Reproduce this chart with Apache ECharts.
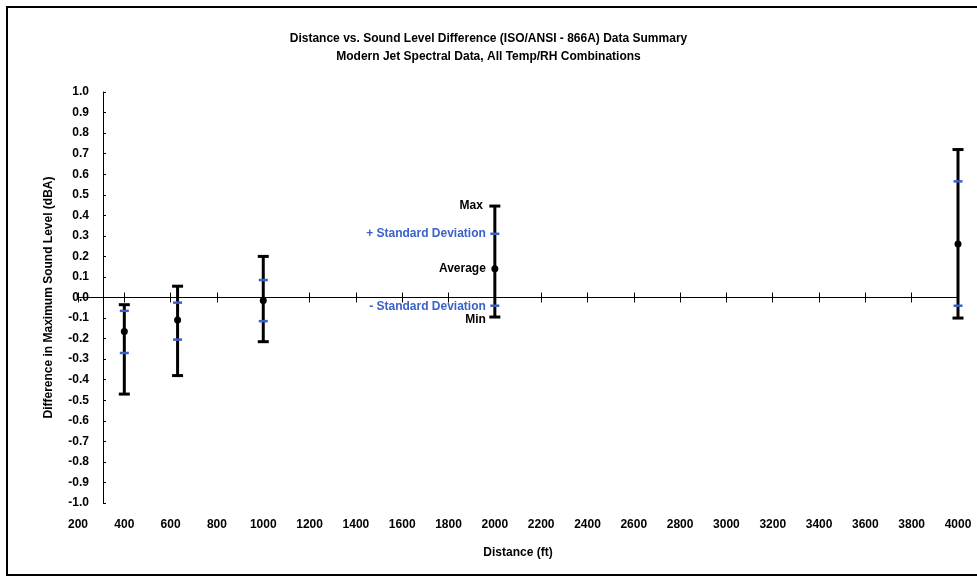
<!DOCTYPE html>
<html>
<head>
<meta charset="utf-8">
<script src="https://cdn.jsdelivr.net/npm/echarts@6/dist/echarts.min.js"></script>
<style>
  html, body { margin: 0; padding: 0; background: #fff; }
  #chart { width: 977px; height: 576px; }
</style>
</head>
<body>
<div id="chart"></div>
<script>
// distance (ft) and the spread of level differences (dBA)
const distances = [400, 630, 1000, 2000, 4000]
const maxValues = [-0.035, 0.055, 0.2, 0.445, 0.72]
const plusSd = [-0.065, -0.025, 0.085, 0.31, 0.565]
const averages = [-0.165, -0.11, -0.015, 0.14, 0.26]
const minusSd = [-0.27, -0.205, -0.115, -0.04, -0.04]
const minValues = [-0.47, -0.38, -0.215, -0.095, -0.1]

// the point that carries the legend-like text
const labelIndex = 3
const pointLabels = ['Max', '+ Standard Deviation', 'Average', '- Standard Deviation', 'Min']

const titleLines = [
  'Distance vs. Sound Level Difference (ISO/ANSI - 866A) Data Summary',
  'Modern Jet Spectral Data, All Temp/RH Combinations'
]

const black = '#000'
const blue = '#3a62c9'
const font = '"Liberation Sans", Arial, sans-serif'

const rows = distances.map((d, i) => [d, minValues[i], minusSd[i], averages[i], plusSd[i], maxValues[i]])

const chart = echarts.init(document.getElementById('chart'))

function renderBar(params, api) {
  const x = api.value(0)
  const pMin = api.coord([x, api.value(1)])
  const pMsd = api.coord([x, api.value(2)])
  const pAvg = api.coord([x, api.value(3)])
  const pPsd = api.coord([x, api.value(4)])
  const pMax = api.coord([x, api.value(5)])
  const cx = pAvg[0]
  const cap = 5.5
  const mark = 4.5
  const kids = [
    { type: 'line', shape: { x1: cx, y1: pMin[1], x2: cx, y2: pMax[1] }, style: { stroke: black, lineWidth: 3 } },
    { type: 'line', shape: { x1: cx - cap, y1: pMax[1], x2: cx + cap, y2: pMax[1] }, style: { stroke: black, lineWidth: 3 } },
    { type: 'line', shape: { x1: cx - cap, y1: pMin[1], x2: cx + cap, y2: pMin[1] }, style: { stroke: black, lineWidth: 3 } },
    { type: 'line', shape: { x1: cx - mark, y1: pPsd[1], x2: cx + mark, y2: pPsd[1] }, style: { stroke: blue, lineWidth: 2.5 } },
    { type: 'line', shape: { x1: cx - mark, y1: pMsd[1], x2: cx + mark, y2: pMsd[1] }, style: { stroke: blue, lineWidth: 2.5 } },
    { type: 'circle', shape: { cx: cx, cy: pAvg[1], r: 3.5 }, style: { fill: black } }
  ]
  if (params.dataIndex === labelIndex) {
    const ys = [pMax[1], pPsd[1], pAvg[1], pMsd[1] + 1, pMin[1] + 3]
    const cols = [black, blue, black, blue, black]
    const gaps = [12, 9, 9, 9, 9]
    pointLabels.forEach((t, k) => {
      kids.push({
        type: 'text',
        style: {
          text: t, x: cx - gaps[k], y: ys[k], align: 'right', verticalAlign: 'middle',
          fill: cols[k], font: 'bold 12px ' + font
        }
      })
    })
  }
  return { type: 'group', children: kids }
}

const tickLabel = { fontFamily: font, fontWeight: 'bold', fontSize: 12, color: black }
const plotBox = { left: 78, right: 19, top: 92, bottom: 73 }

const option = {
  backgroundColor: '#fff',
  animation: false,
  title: {
    text: titleLines.join('\n'),
    left: 'center',
    top: 30,
    padding: [0, 0, 0, 16],
    textStyle: { fontFamily: font, fontWeight: 'bold', fontSize: 12, lineHeight: 18, color: black }
  },
  graphic: [{
    type: 'rect', silent: true,
    shape: { x: 7, y: 7, width: 990, height: 568 },
    style: { fill: 'none', stroke: black, lineWidth: 2 }
  }],
  // second grid only carries the downward half of the crossing ticks on the zero line
  grid: [Object.assign({}, plotBox), Object.assign({}, plotBox)],
  xAxis: [
    {
      type: 'value', gridIndex: 0, position: 'bottom', min: 200, max: 4000, interval: 200,
      name: 'Distance (ft)', nameLocation: 'middle', nameGap: 44,
      nameTextStyle: tickLabel,
      axisLine: { show: false, onZero: false },
      axisTick: { show: false },
      splitLine: { show: false },
      axisLabel: Object.assign({ margin: 16, formatter: v => String(v) }, tickLabel)
    },
    {
      type: 'value', gridIndex: 0, position: 'bottom', min: 200, max: 4000, interval: 200,
      axisLine: { show: true, onZero: true, lineStyle: { color: black, width: 1 } },
      axisTick: { show: true, inside: true, length: 5, lineStyle: { color: black } },
      axisLabel: { show: false },
      splitLine: { show: false }
    },
    {
      type: 'value', gridIndex: 1, position: 'bottom', min: 200, max: 4000, interval: 200,
      axisLine: { show: true, onZero: true, lineStyle: { color: black, width: 1 } },
      axisTick: { show: true, inside: false, length: 5, lineStyle: { color: black } },
      axisLabel: { show: false },
      splitLine: { show: false }
    }
  ],
  yAxis: [
    {
      type: 'value', gridIndex: 0, min: -1, max: 1, interval: 0.1,
      offset: -25,
      name: 'Difference in Maximum Sound Level (dBA)',
      nameLocation: 'middle', nameGap: 48,
      nameTextStyle: tickLabel,
      axisLine: { show: true, onZero: false, lineStyle: { color: black, width: 1 } },
      axisTick: { show: true, inside: true, length: 3, lineStyle: { color: black } },
      splitLine: { show: false },
      axisLabel: Object.assign({ margin: 14, formatter: v => v.toFixed(1) }, tickLabel)
    },
    {
      type: 'value', gridIndex: 1, min: -1, max: 1, interval: 0.1, show: false
    }
  ],
  series: [{
    type: 'custom',
    xAxisIndex: 0,
    yAxisIndex: 0,
    renderItem: renderBar,
    encode: { x: 0, y: [1, 5] },
    data: rows,
    z: 10
  }]
}

chart.setOption(option)
</script>
</body>
</html>
